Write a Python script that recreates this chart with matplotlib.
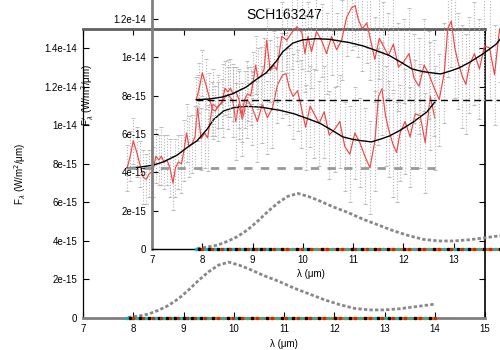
import matplotlib
matplotlib.use("Agg")
import matplotlib.pyplot as plt
import numpy as np

plt.rcParams['font.family'] = ['Liberation Sans', 'DejaVu Sans']

# ---- data (flux in units of 1e-15 W/m^2/um) ----
wl = [7.88, 7.94, 8.00, 8.07, 8.13, 8.20, 8.26, 8.32, 8.39, 8.45, 8.51, 8.56, 8.61, 8.67,
      8.73, 8.79, 8.84, 8.90, 8.96, 9.01, 9.06, 9.11, 9.17, 9.23, 9.28, 9.35, 9.42, 9.48,
      9.58, 9.68, 9.78, 9.88, 9.98, 10.04, 10.10, 10.17, 10.27, 10.37, 10.47, 10.57, 10.67,
      10.77, 10.87, 10.97, 11.04, 11.10, 11.18, 11.27, 11.33, 11.43, 11.52, 11.60, 11.70,
      11.80, 11.90, 12.01, 12.11, 12.21, 12.31, 12.41, 12.51, 12.61, 12.71, 12.81, 12.88,
      12.95, 13.02, 13.08, 13.17, 13.24, 13.31, 13.41, 13.51, 13.61, 13.71, 13.81, 13.91, 14.00]
flux = [7.8, 8.4, 9.2, 8.6, 8.0, 7.3, 7.2, 7.5, 7.6, 8.4, 8.2, 8.4, 8.1, 8.2,
        7.8, 7.0, 7.8, 8.1, 8.0, 8.7, 9.6, 8.9, 9.05, 9.4, 10.9, 9.3, 9.6, 9.35,
        11.1, 10.9, 11.3, 11.6, 11.3, 10.2, 11.1, 10.3, 11.35, 10.9, 10.2, 11.1, 10.4,
        10.9, 12.1, 12.6, 12.7, 12.0, 11.5, 11.8, 11.1, 9.9, 11.0, 10.6, 10.1,
        10.7, 9.5, 9.8, 10.2, 8.9, 8.5, 9.6, 9.1, 8.4, 7.8, 9.2, 11.5,
        11.9, 10.5, 9.8, 9.0, 8.6, 9.6, 10.2, 9.4, 10.6, 10.5, 9.1, 11.5, 10.4]
err = [1.2, 1.3, 1.2, 1.3, 1.2, 1.4, 1.3, 1.2, 1.3, 1.4, 1.3, 1.5, 1.4, 1.3, 1.5, 1.4,
       1.5, 1.4, 1.5, 1.6, 1.5, 1.6, 1.5, 1.6,
       1.7, 1.6, 1.8, 1.7, 1.8, 1.7, 1.9, 1.8, 1.9, 2.0, 1.8, 1.9, 2.0, 1.9, 2.1, 2.0,
       1.9, 2.1, 2.0, 2.2, 2.1,
       2.0, 2.2, 2.1, 2.3, 2.2, 2.1, 2.3, 2.2, 2.4, 2.3, 2.2, 2.4, 2.3, 2.5, 2.4, 2.3,
       2.5, 2.4, 2.6,
       2.5, 2.4, 2.6, 2.5, 2.7, 2.6, 2.5, 2.7, 2.6, 2.8, 2.7, 2.6, 2.8, 2.7]

fit_wl = [7.88, 8.1, 8.39, 8.6, 8.87, 9.1, 9.27, 9.47, 9.6, 9.8, 10.0, 10.26, 10.52,
          10.92, 11.2, 11.52, 11.72, 11.95, 12.17, 12.37, 12.55, 12.74, 12.94, 13.1,
          13.31, 13.57, 13.84, 14.0]
fit = [7.8, 7.82, 7.93, 8.1, 8.45, 8.9, 9.2, 9.8, 10.3, 10.75, 10.92, 10.98, 10.95,
       10.78, 10.6, 10.3, 10.1, 9.75, 9.4, 9.27, 9.2, 9.14, 9.3, 9.45,
       9.74, 10.17, 10.69, 11.2]

cont_wl = [7.88, 14.0]
cont = [7.8, 7.8]

dust_wl = [7.9, 8.1, 8.3, 8.5, 8.7, 8.9, 9.1, 9.3, 9.5, 9.7, 9.9, 10.1, 10.3, 10.6,
           10.9, 11.2, 11.5, 11.8, 12.1, 12.4, 12.7, 13.0, 13.3, 13.6, 14.0]
dust = [0.03, 0.1, 0.2, 0.4, 0.65, 1.0, 1.45, 1.95, 2.4, 2.75, 2.9, 2.75, 2.55, 2.2,
        1.9, 1.55, 1.25, 0.95, 0.7, 0.5, 0.42, 0.42, 0.48, 0.58, 0.72]

zero_comps = [[0.0] * len(wl) for _ in range(4)]
zero_colors = ['#e8601c', '#00c0c0', '#000000', '#c03000']

main_yticks = [0, 2, 4, 6, 8, 10, 12, 14]
main_ylabels = ['0', '2e-15', '4e-15', '6e-15', '8e-15', '1e-14', '1.2e-14', '1.4e-14']
inset_yticks = [0, 2, 4, 6, 8, 10, 12]
inset_ylabels = ['0', '2e-15', '4e-15', '6e-15', '8e-15', '1e-14', '1.2e-14']
xticks = [7, 8, 9, 10, 11, 12, 13, 14, 15]
inset_xticks = [7, 8, 9, 10, 11, 12, 13]

S = 1e-15
W, H = 500, 350

fig = plt.figure(figsize=(5, 3.5), dpi=100)

ax = fig.add_axes([83 / W, 1 - 318 / H, 402 / W, 289 / H])
ax2 = fig.add_axes([152 / W, 1 - 249 / H, 402.4 / W, 249 / H])
ax2.patch.set_visible(False)


def draw(a, dashcolor, dashlw, dashpat):
    w = np.array(wl)
    f = np.array(flux) * S
    e = np.array(err) * S
    a.vlines(w, f - e, f + e, colors='#b4b4b4', linestyles=(0, (1, 1.6)), lw=0.8, zorder=1)
    a.plot(w, f - e, ls='none', marker='_', ms=3, mew=0.6, color='#b4b4b4', zorder=1)
    a.plot(w, f + e, ls='none', marker='_', ms=3, mew=0.6, color='#b4b4b4', zorder=1)
    a.plot(w, f, color='#f24646', lw=0.85, zorder=2)
    a.plot(fit_wl, np.array(fit) * S, color='black', lw=1.0, zorder=3)
    a.plot(cont_wl, np.array(cont) * S, color=dashcolor, lw=dashlw, dashes=dashpat, zorder=3)
    a.plot(dust_wl, np.array(dust) * S, color='#888888', lw=2.0, dashes=(1.2, 0.8), zorder=3)
    a.plot(w, np.array(zero_comps[0]) * S, color=zero_colors[0], lw=2.2, clip_on=False, zorder=4)
    for k in range(1, 4):
        a.plot(w, np.array(zero_comps[k]) * S, ls='none', marker='s', ms=1.4,
               color=zero_colors[k], markevery=(k - 1, 3), clip_on=False, zorder=5)


draw(ax, '#999999', 2.0, (3, 3))
draw(ax2, 'black', 1.0, (5, 3))

# main axes styling
ax.set_xlim(7, 15)
ax.set_ylim(0, 1.5e-14)
ax.set_xticks(xticks)
ax.set_xticklabels([str(t) for t in xticks])
ax.set_yticks([t * S for t in main_yticks])
ax.set_yticklabels(main_ylabels)
ax.tick_params(direction='in', length=4, width=0.8, labelsize=7, top=True, right=True, pad=4)
ax.spines['left'].set_linewidth(0.9)
ax.spines['right'].set_linewidth(1.2)
ax.spines['bottom'].set_color('#808080')
ax.spines['bottom'].set_linewidth(2.0)
ax.spines['top'].set_color('#606060')
ax.spines['top'].set_linewidth(2.0)
ax.set_xlabel('λ (μm)', fontsize=7, labelpad=4)
ax.set_ylabel(r'F$_\lambda$ (W/m$^2$/μm)', fontsize=7)
ax.yaxis.set_label_coords(-0.137, 0.5)
ax.set_title('SCH163247', fontsize=10, pad=7)

# inset axes styling
ax2.set_xlim(7, 15)
ax2.set_ylim(0, 1.3e-14)
ax2.set_xticks(inset_xticks)
ax2.set_xticklabels([str(t) for t in inset_xticks])
ax2.set_yticks([t * S for t in inset_yticks])
ax2.set_yticklabels(inset_ylabels)
ax2.tick_params(direction='in', length=4, width=0.8, labelsize=7, pad=4)
ax2.spines['top'].set_visible(False)
ax2.spines['right'].set_visible(False)
ax2.spines['left'].set_color('#808080')
ax2.spines['left'].set_linewidth(2.0)
ax2.spines['bottom'].set_linewidth(1.0)
ax2.set_xlabel('λ (μm)', fontsize=7)
ax2.xaxis.set_label_coords(0.395, -0.08)
ax2.set_ylabel(r'F$_\lambda^{\prime}$ (W/m$^2$/μm)', fontsize=7)
ax2.yaxis.set_label_coords(-0.139, 0.62)

fig.savefig('out.png', dpi=100)
